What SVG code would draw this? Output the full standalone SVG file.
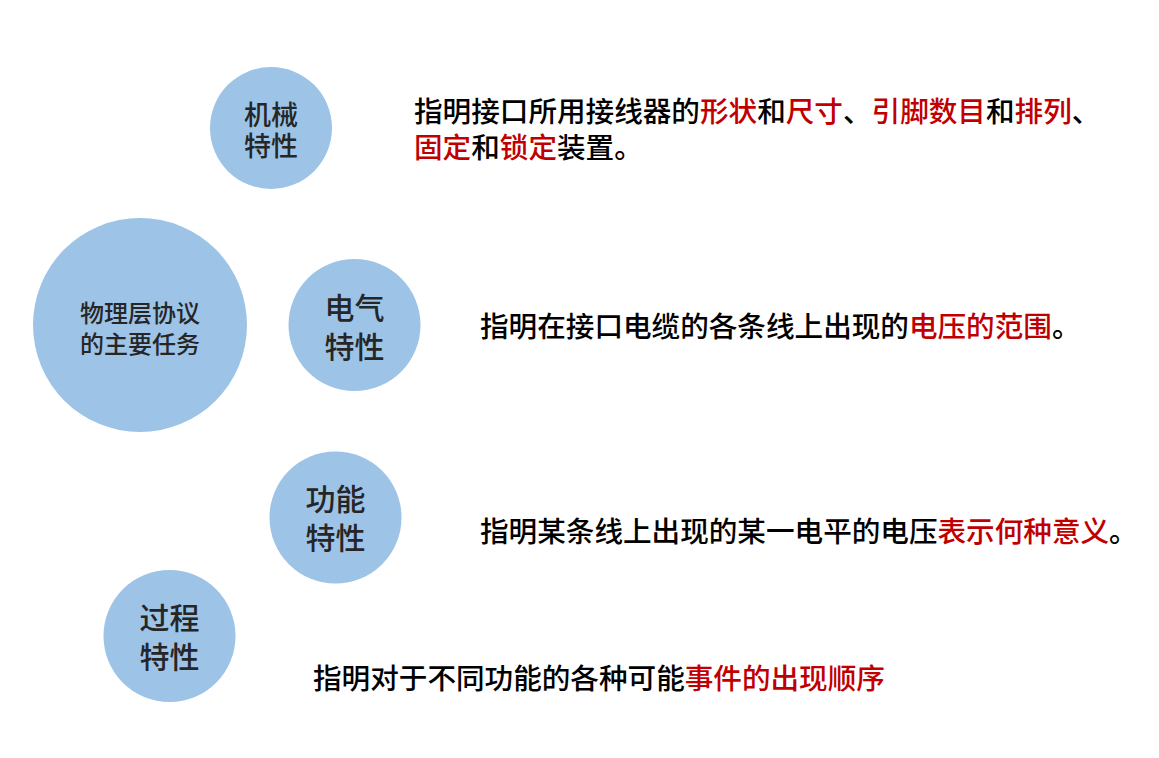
<svg xmlns="http://www.w3.org/2000/svg" width="1159" height="758" viewBox="0 0 1159 758">
<style>
.c{fill:#9DC3E6;}
.lbl{font-family:"Noto Sans CJK SC","Noto Sans",sans-serif;fill:#262626;text-anchor:middle;font-weight:500;}
.d{font-family:"Noto Sans CJK SC","Noto Sans",sans-serif;fill:#000;font-size:28.6px;font-weight:500;}
.r{fill:#C00000;}
</style>
<rect width="1159" height="758" fill="#fff"/>
<g id="connectors"></g>
<g id="main">
<circle class="c" cx="140" cy="325" r="107"/>
<text class="lbl" font-size="24" x="140" y="322">物理层协议</text>
<text class="lbl" font-size="24" x="140" y="353">的主要任务</text>
</g>
<g id="mechanical">
<circle class="c" cx="271" cy="128" r="61"/>
<text class="lbl" font-size="27" x="271" y="125">机械</text>
<text class="lbl" font-size="27" x="271" y="156">特性</text>
</g>
<g id="electrical">
<circle class="c" cx="354.5" cy="325" r="66"/>
<text class="lbl" font-size="30" x="354.5" y="319">电气</text>
<text class="lbl" font-size="30" x="354.5" y="358">特性</text>
</g>
<g id="functional">
<circle class="c" cx="335.5" cy="517.5" r="66"/>
<text class="lbl" font-size="30" x="335.5" y="510">功能</text>
<text class="lbl" font-size="30" x="335.5" y="549">特性</text>
</g>
<g id="procedural">
<circle class="c" cx="169.5" cy="636" r="66"/>
<text class="lbl" font-size="30" x="169.5" y="629">过程</text>
<text class="lbl" font-size="30" x="169.5" y="668">特性</text>
</g>
<g id="desc-mechanical">
<text class="d" x="414" y="121.5">指明接口所用接线器的<tspan class="r">形状</tspan>和<tspan class="r">尺寸</tspan>、<tspan class="r">引脚数目</tspan>和<tspan class="r">排列</tspan>、</text>
<text class="d" x="414" y="157.5"><tspan class="r">固定</tspan>和<tspan class="r">锁定</tspan>装置。</text>
</g>
<g id="desc-electrical">
<text class="d" x="480" y="336.5">指明在接口电缆的各条线上出现的<tspan class="r">电压的范围</tspan>。</text>
</g>
<g id="desc-functional">
<text class="d" x="480" y="541.5">指明某条线上出现的某一电平的电压<tspan class="r">表示何种意义</tspan>。</text>
</g>
<g id="desc-procedural">
<text class="d" x="313" y="688.5">指明对于不同功能的各种可能<tspan class="r">事件的出现顺序</tspan></text>
</g>
</svg>
